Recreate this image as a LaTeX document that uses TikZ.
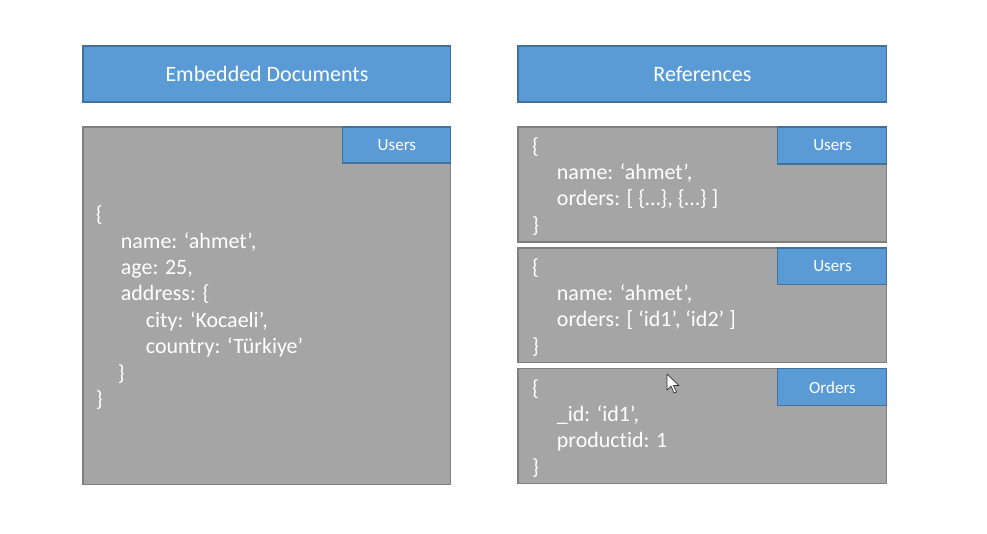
\documentclass[tikz,border=0pt]{standalone}
\usepackage{fontspec}
\setmainfont[Ligatures=NoCommon]{Carlito}
\usepackage{xcolor}
\usepackage{tikz}
\definecolor{headblue}{HTML}{5B9BD5}
\definecolor{headedge}{HTML}{41719C}
\definecolor{docgray}{HTML}{A5A5A5}
\definecolor{docedge}{HTML}{7F7F7F}
\usetikzlibrary{positioning}
\newcommand{\indone}{\hspace*{14.2pt}}
\newcommand{\indhalf}{\hspace*{12.4pt}}

\begin{document}
\begin{tikzpicture}[x=0.02cm, y=-0.02cm,
	header/.style={draw=headedge, fill=headblue, line width=0.6pt, minimum width=7.36cm, minimum height=1.12cm, anchor=north west, inner sep=0pt, outer sep=0pt, text=white, font=\fontsize{12.5}{15}\selectfont},
	docbox/.style={draw=docedge, fill=docgray, line width=0.6pt, minimum width=7.38cm, minimum height=2.3cm, inner sep=0pt, outer sep=0pt},
	tab/.style={draw=headedge, fill=headblue, line width=0.6pt, minimum width=2.18cm, minimum height=0.74cm, anchor=north east, inner sep=0pt, outer sep=0pt, text=white, font=\fontsize{9.7}{11.6}\selectfont},
	code/.style={inner sep=0pt, outer sep=0pt, align=left, text=white, font=\fontsize{12.5}{15}\selectfont}]
	
	\fill[white] (0,0) rectangle (987,534);
	
	% headers
	\node[header] (embhead) at (83,46) {Embedded Documents};
	\node[header, minimum width=7.38cm] (refhead) at (518,46) {References};
	
	% embedded side
	\node[docbox, anchor=north west, minimum width=7.36cm, minimum height=7.16cm] (embdoc) at (83,127) {};
	\node[tab, minimum width=2.16cm, minimum height=0.72cm] (embtab) at (embdoc.north east) {Users};
	\node[code, right=0.26cm of embdoc.west, yshift=-1pt] (embtext) {\{\\
		\indone name: ‘ahmet’,\\
		\indone age: 25,\\
		\indone address: \{\\
		\indone\indone city: ‘Kocaeli’,\\
		\indone\indone country: ‘Türkiye’\\
		\indhalf\}\\
		\}};
	
	% references side
	\node[docbox, anchor=north west] (refuser) at (518,127) {};
	\node[docbox, below=0.12cm of refuser] (refids) {};
	\node[docbox, below=0.12cm of refids] (reforder) {};
	
	\node[tab] (usertab) at (refuser.north east) {Users};
	\node[tab] (idstab) at (refids.north east) {Users};
	\node[tab] (ordertab) at (reforder.north east) {Orders};
	
	\node[code, right=0.28cm of refuser.west, yshift=-1pt] (usertext) {\{\\
		\indone name: ‘ahmet’,\\
		\indone orders: [ \{…\}, \{…\} ]\\
		\}};
	\node[code, right=0.28cm of refids.west, yshift=-1pt] (idstext) {\{\\
		\indone name: ‘ahmet’,\\
		\indone orders: [ ‘id1’, ‘id2’ ]\\
		\}};
	\node[code, right=0.28cm of reforder.west, yshift=-1pt] (ordertext) {\{\\
		\indone \_id: ‘id1’,\\
		\indone productid: 1\\
		\}};
	
	% mouse pointer
	\draw[fill=white, draw=black!80, line width=0.4pt, line join=round] (667,374) -- (667,390) -- (671,386) -- (674,393) -- (676.5,392) -- (673.5,385.5) -- (679,385.5) -- cycle;
	
\end{tikzpicture}
\end{document}
